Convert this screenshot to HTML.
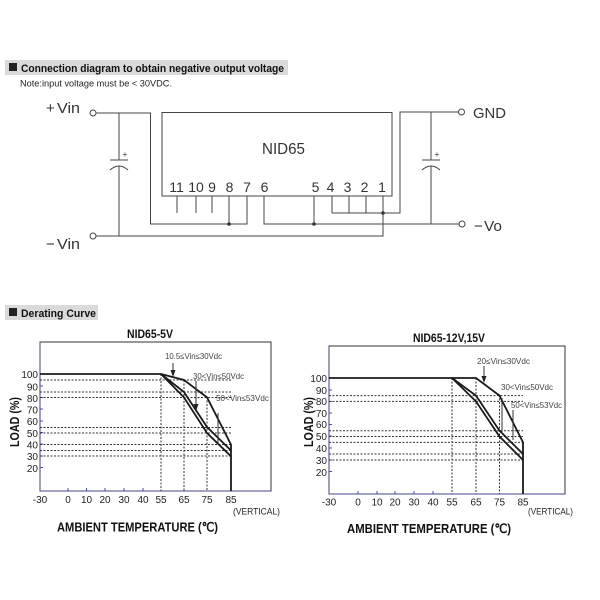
<!DOCTYPE html>
<html><head><meta charset="utf-8"><style>
html,body{margin:0;padding:0;background:#fff;}
svg{display:block;}
text{font-family:"Liberation Sans",sans-serif;}
</style></head><body>
<svg width="600" height="600" viewBox="0 0 600 600" xmlns="http://www.w3.org/2000/svg">
<!-- Header 1 -->
<rect x="5" y="60" width="283" height="15" fill="#dadada"/>
<rect x="9" y="63" width="8" height="8" fill="#222"/>
<text x="21" y="72" font-size="11" font-weight="bold" fill="#111" textLength="263" lengthAdjust="spacingAndGlyphs">Connection diagram to obtain negative output voltage</text>
<text x="20" y="86.5" font-size="9.5" fill="#222" textLength="152" lengthAdjust="spacingAndGlyphs">Note:input voltage must be &lt; 30VDC.</text>

<!-- Schematic -->
<g stroke="#444" stroke-width="1" fill="none">
<rect x="162" y="112.5" width="230" height="83.5"/>
<polyline points="96,113 150.5,113 150.5,224 247,224 247,196"/>
<line x1="119" y1="113" x2="119" y2="160"/>
<line x1="110" y1="160" x2="128" y2="160"/>
<path d="M110,170 Q119,162 128,170"/>
<line x1="119" y1="166" x2="119" y2="236"/>
<line x1="177" y1="196" x2="177" y2="213"/>
<line x1="196" y1="196" x2="196" y2="213"/>
<line x1="212" y1="196" x2="212" y2="213"/>
<line x1="229" y1="196" x2="229" y2="224"/>
<polyline points="264,196 264,224 459,224"/>
<line x1="314" y1="196" x2="314" y2="224"/>
<polyline points="96,236 383,236 383,196"/>
<line x1="332" y1="196" x2="332" y2="213"/>
<line x1="349" y1="196" x2="349" y2="213"/>
<line x1="366" y1="196" x2="366" y2="213"/>
<polyline points="332,213 400,213 400,112 458,112"/>
<line x1="431" y1="112" x2="431" y2="160"/>
<line x1="422" y1="160" x2="440" y2="160"/>
<path d="M422,170 Q431,162 440,170"/>
<line x1="431" y1="166" x2="431" y2="224"/>
<circle cx="93" cy="113" r="3"/>
<circle cx="93" cy="236" r="3"/>
<circle cx="461.5" cy="112" r="3"/>
<circle cx="462" cy="224" r="3"/>
</g>
<g fill="#333">
<circle cx="229" cy="224" r="1.8"/>
<circle cx="314" cy="224" r="1.8"/>
<circle cx="383" cy="213" r="1.8"/>
</g>
<text x="125" y="157" font-size="8" fill="#333" text-anchor="middle">+</text>
<text x="437" y="157" font-size="8" fill="#333" text-anchor="middle">+</text>
<g fill="#333" font-size="15">
<text x="46" y="113">+</text>
<text x="57" y="113" textLength="23" lengthAdjust="spacingAndGlyphs">Vin</text>
<text x="46" y="249">−</text>
<text x="57" y="249" textLength="23" lengthAdjust="spacingAndGlyphs">Vin</text>
<text x="473" y="118" textLength="33" lengthAdjust="spacingAndGlyphs">GND</text>
<text x="474" y="231">−</text>
<text x="484" y="231" textLength="18" lengthAdjust="spacingAndGlyphs">Vo</text>
</g>
<text x="262" y="154" font-size="16" fill="#333" textLength="43" lengthAdjust="spacingAndGlyphs">NID65</text>
<g fill="#333" font-size="14" text-anchor="middle">
<text x="176.5" y="192">11</text>
<text x="196" y="192">10</text>
<text x="212" y="192">9</text>
<text x="229.5" y="192">8</text>
<text x="247" y="192">7</text>
<text x="264.5" y="192">6</text>
<text x="315.5" y="192">5</text>
<text x="330.5" y="192">4</text>
<text x="347.5" y="192">3</text>
<text x="364.5" y="192">2</text>
<text x="382" y="192">1</text>
</g>

<!-- Header 2 -->
<rect x="5" y="305" width="93" height="15" fill="#dadada"/>
<rect x="9" y="308" width="8" height="8" fill="#222"/>
<text x="21" y="317" font-size="11" font-weight="bold" fill="#111" textLength="75" lengthAdjust="spacingAndGlyphs">Derating Curve</text>

<!-- Chart 1 -->
<text x="150" y="338" font-size="11.5" font-weight="bold" fill="#111" text-anchor="middle" textLength="46" lengthAdjust="spacingAndGlyphs">NID65-5V</text>
<rect x="40" y="342" width="231" height="149" fill="none" stroke="#333" stroke-width="1"/>
<line x1="40" y1="342" x2="40" y2="491" stroke="#6a6aa0" stroke-width="1.3"/>
<line x1="40" y1="491" x2="271" y2="491" stroke="#6a6aa0" stroke-width="1.3"/>
<g stroke="#4a4ab0" stroke-width="1">
<line x1="40" y1="386" x2="43" y2="386"/><line x1="40" y1="397.5" x2="43" y2="397.5"/>
<line x1="40" y1="409" x2="43" y2="409"/><line x1="40" y1="421" x2="43" y2="421"/>
<line x1="40" y1="432.5" x2="43" y2="432.5"/><line x1="40" y1="444" x2="43" y2="444"/>
<line x1="40" y1="456" x2="43" y2="456"/><line x1="40" y1="467.5" x2="43" y2="467.5"/>
<line x1="68" y1="491" x2="68" y2="488"/><line x1="86.5" y1="491" x2="86.5" y2="488"/>
<line x1="105" y1="491" x2="105" y2="488"/><line x1="124" y1="491" x2="124" y2="488"/>
<line x1="143" y1="491" x2="143" y2="488"/>
</g>
<g stroke="#333" stroke-width="1" stroke-dasharray="2,1.5">
<line x1="40" y1="380" x2="231" y2="380"/>
<line x1="40" y1="392" x2="231" y2="392"/>
<line x1="40" y1="397.5" x2="231" y2="397.5"/>
<line x1="40" y1="427.5" x2="231" y2="427.5"/>
<line x1="40" y1="433" x2="231" y2="433"/>
<line x1="40" y1="444.5" x2="231" y2="444.5"/>
<line x1="40" y1="450.5" x2="231" y2="450.5"/>
<line x1="40" y1="456" x2="231" y2="456"/>
<line x1="161" y1="374" x2="161" y2="491"/>
<line x1="184" y1="380" x2="184" y2="491"/>
<line x1="207" y1="397" x2="207" y2="491"/>
</g>
<g stroke="#1a1a1a" stroke-width="1.8" fill="none" stroke-linejoin="miter">
<polyline points="40,374 161,374 184,380 207,397.4 231,444.6 231,491"/>
<polyline points="161,374 184,392 207,427 231,450.5"/>
<polyline points="161,374 184,397.4 207,433 231,456.3"/>
</g>
<g stroke="#333" stroke-width="1">
<line x1="173" y1="363" x2="173" y2="372"/>
<line x1="196" y1="381" x2="196" y2="406"/>
<line x1="218" y1="413" x2="218" y2="443"/>
</g>
<g fill="#222">
<polygon points="170.5,370 175.5,370 173,377"/>
<polygon points="193.5,404 198.5,404 196,411"/>
</g>
<g fill="#444" font-size="8">
<text x="165" y="359" textLength="57" lengthAdjust="spacingAndGlyphs">10.5≤Vin≤30Vdc</text>
<text x="193" y="379" textLength="51" lengthAdjust="spacingAndGlyphs">30&lt;Vin≤50Vdc</text>
<text x="216" y="401" textLength="53" lengthAdjust="spacingAndGlyphs">50&lt;Vin≤53Vdc</text>
</g>
<g fill="#222" font-size="10" text-anchor="end">
<text x="38" y="378">100</text><text x="38" y="390.5">90</text><text x="38" y="402">80</text>
<text x="38" y="413.5">70</text><text x="38" y="425">60</text><text x="38" y="437">50</text>
<text x="38" y="448.5">40</text><text x="38" y="460">30</text><text x="38" y="472">20</text>
</g>
<g fill="#222" font-size="10" text-anchor="middle">
<text x="40" y="503">-30</text><text x="68" y="503">0</text><text x="86.5" y="503">10</text>
<text x="105" y="503">20</text><text x="124" y="503">30</text><text x="143" y="503">40</text>
<text x="161" y="503">55</text><text x="184" y="503">65</text><text x="207" y="503">75</text>
<text x="231" y="503">85</text>
</g>
<text x="233" y="514.5" font-size="9.5" fill="#222" textLength="47" lengthAdjust="spacingAndGlyphs">(VERTICAL)</text>
<text x="57" y="531.5" font-size="13" font-weight="bold" fill="#111" textLength="161" lengthAdjust="spacingAndGlyphs">AMBIENT TEMPERATURE (℃)</text>
<text transform="translate(19,422) rotate(-90)" font-size="13" font-weight="bold" fill="#111" text-anchor="middle" textLength="50" lengthAdjust="spacingAndGlyphs">LOAD (%)</text>

<!-- Chart 2 -->
<text x="449" y="342" font-size="11.5" font-weight="bold" fill="#111" text-anchor="middle" textLength="72" lengthAdjust="spacingAndGlyphs">NID65-12V,15V</text>
<rect x="329" y="346" width="236" height="148" fill="none" stroke="#333" stroke-width="1"/>
<line x1="329" y1="346" x2="329" y2="494" stroke="#6a6aa0" stroke-width="1.3"/>
<line x1="329" y1="494" x2="565" y2="494" stroke="#6a6aa0" stroke-width="1.3"/>
<g stroke="#4a4ab0" stroke-width="1">
<line x1="329" y1="390" x2="332" y2="390"/><line x1="329" y1="401.5" x2="332" y2="401.5"/>
<line x1="329" y1="413" x2="332" y2="413"/><line x1="329" y1="424.5" x2="332" y2="424.5"/>
<line x1="329" y1="436" x2="332" y2="436"/><line x1="329" y1="448" x2="332" y2="448"/>
<line x1="329" y1="460" x2="332" y2="460"/><line x1="329" y1="471.5" x2="332" y2="471.5"/>
<line x1="358" y1="494" x2="358" y2="491"/><line x1="377" y1="494" x2="377" y2="491"/>
<line x1="395" y1="494" x2="395" y2="491"/><line x1="414" y1="494" x2="414" y2="491"/>
<line x1="433" y1="494" x2="433" y2="491"/>
</g>
<g stroke="#333" stroke-width="1" stroke-dasharray="2,1.5">
<line x1="329" y1="395.6" x2="523" y2="395.6"/>
<line x1="329" y1="401.4" x2="523" y2="401.4"/>
<line x1="329" y1="430.7" x2="523" y2="430.7"/>
<line x1="329" y1="436.5" x2="523" y2="436.5"/>
<line x1="329" y1="442.4" x2="523" y2="442.4"/>
<line x1="329" y1="454" x2="523" y2="454"/>
<line x1="329" y1="460" x2="523" y2="460"/>
<line x1="452" y1="378" x2="452" y2="494"/>
<line x1="476" y1="378" x2="476" y2="494"/>
<line x1="499.5" y1="395" x2="499.5" y2="494"/>
</g>
<g stroke="#1a1a1a" stroke-width="1.8" fill="none">
<polyline points="329,378 476,378 499.5,395.6 523,442.4 523,494"/>
<polyline points="452,378 476,395.6 499.5,430.7 523,454"/>
<polyline points="452,378 476,401.4 499.5,436.5 523,460"/>
</g>
<g stroke="#333" stroke-width="1">
<line x1="484" y1="366" x2="484" y2="378"/>
<line x1="502" y1="398" x2="502" y2="434"/>
<line x1="513" y1="410" x2="513" y2="440"/>
</g>
<polygon points="481.5,376 486.5,376 484,383" fill="#222"/>
<g fill="#444" font-size="8">
<text x="477" y="364" textLength="53" lengthAdjust="spacingAndGlyphs">20≤Vin≤30Vdc</text>
<text x="501" y="390" textLength="52" lengthAdjust="spacingAndGlyphs">30&lt;Vin≤50Vdc</text>
<text x="511" y="408" textLength="51" lengthAdjust="spacingAndGlyphs">50&lt;Vin≤53Vdc</text>
</g>
<g fill="#222" font-size="10" text-anchor="end">
<text x="327" y="382">100</text><text x="327" y="394">90</text><text x="327" y="405">80</text>
<text x="327" y="417">70</text><text x="327" y="428">60</text><text x="327" y="440">50</text>
<text x="327" y="452">40</text><text x="327" y="464">30</text><text x="327" y="476">20</text>
</g>
<g fill="#222" font-size="10" text-anchor="middle">
<text x="329" y="505.5">-30</text><text x="358" y="505.5">0</text><text x="377" y="505.5">10</text>
<text x="395" y="505.5">20</text><text x="414" y="505.5">30</text><text x="433" y="505.5">40</text>
<text x="452" y="505.5">55</text><text x="476" y="505.5">65</text><text x="499.5" y="505.5">75</text>
<text x="523" y="505.5">85</text>
</g>
<text x="528" y="514.5" font-size="9.5" fill="#222" textLength="45" lengthAdjust="spacingAndGlyphs">(VERTICAL)</text>
<text x="347" y="533" font-size="13" font-weight="bold" fill="#111" textLength="164" lengthAdjust="spacingAndGlyphs">AMBIENT TEMPERATURE (℃)</text>
<text transform="translate(313,422) rotate(-90)" font-size="13" font-weight="bold" fill="#111" text-anchor="middle" textLength="50" lengthAdjust="spacingAndGlyphs">LOAD (%)</text>
</svg>
</body></html>
